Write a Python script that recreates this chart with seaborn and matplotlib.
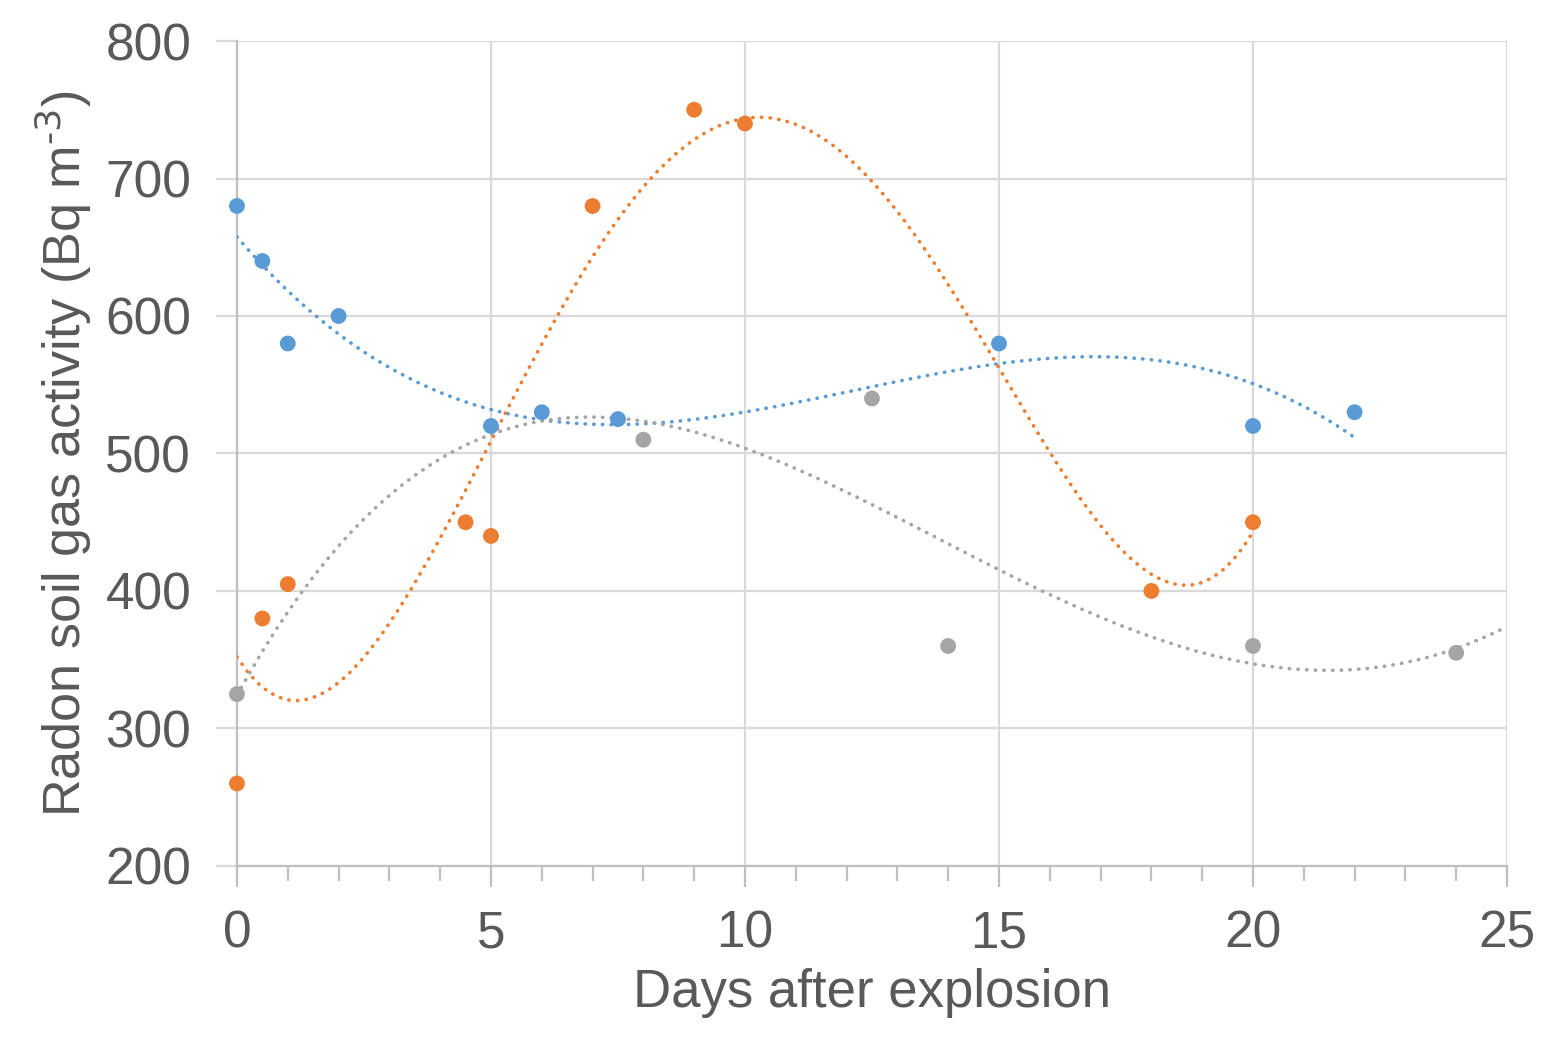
import matplotlib
matplotlib.use("Agg")
import matplotlib.pyplot as plt
import seaborn as sns
import pandas as pd
from matplotlib.ticker import MultipleLocator

# Datos
blue_days = [0, 0.5, 1, 2, 5, 6, 7.5, 15, 20, 22]
blue_radon = [680, 640, 580, 600, 520, 530, 525, 580, 520, 530]

orange_days = [0, 0.5, 1, 4.5, 5, 7, 9, 10, 18, 20]
orange_radon = [260, 380, 405, 450, 440, 680, 750, 740, 400, 450]

grey_days = [0, 8, 12.5, 14, 20, 24]
grey_radon = [325, 510, 540, 360, 360, 355]

x_ticks = [0, 5, 10, 15, 20, 25]
y_ticks = [200, 300, 400, 500, 600, 700, 800]

sns.set_style("white")
plt.rcParams['font.family'] = ['Liberation Sans', 'DejaVu Sans']
plt.rcParams['mathtext.default'] = 'regular'

text_color = '#595959'
grid_color = '#D9D9D9'
axis_color = '#BFBFBF'

# (x, y, color, orden del polinomio de tendencia, recortar al rango de datos)
series = [
    (blue_days, blue_radon, '#5B9BD5', 3, True),
    (orange_days, orange_radon, '#ED7D31', 4, True),
    (grey_days, grey_radon, '#A5A5A5', 4, False),
]

fig = plt.figure(figsize=(15.61, 10.49), dpi=100)
ax = fig.add_axes([0.1518, 0.1745, 0.8136, 0.7864])
ax.set_xlim(0, 25)
ax.set_ylim(200, 800)

for days, radon, color, order, trunc in series:
    df = pd.DataFrame({'days': days, 'radon': radon})
    sns.regplot(data=df, x='days', y='radon', order=order, ci=None, scatter=False,
                truncate=trunc, ax=ax,
                line_kws={'color': color, 'lw': 2.6, 'linestyle': (0, (0.1, 2.3)),
                          'dash_capstyle': 'round', 'zorder': 3})
    sns.scatterplot(data=df, x='days', y='radon', color=color, s=130,
                    edgecolor='none', ax=ax, zorder=4, clip_on=False)

ax.set_xlim(0, 25)
ax.set_ylim(200, 800)

# Rejilla y ejes estilo Excel
ax.set_xticks(x_ticks)
ax.set_yticks(y_ticks)
ax.xaxis.set_minor_locator(MultipleLocator(1))
ax.grid(True, which='major', color=grid_color, lw=1.6)
ax.set_axisbelow(True)
for side in ['top', 'right']:
    ax.spines[side].set_visible(False)
ax.spines['left'].set_color(axis_color)
ax.spines['left'].set_linewidth(1.6)
ax.spines['bottom'].set_color(axis_color)
ax.spines['bottom'].set_linewidth(1.6)

ax.tick_params(axis='x', which='major', length=15, width=1.6, color=axis_color,
               labelsize=37, labelcolor=text_color, pad=16, bottom=True)
ax.tick_params(axis='x', which='minor', length=11, width=1.6, color=axis_color, bottom=True)
ax.tick_params(axis='y', which='major', length=15, width=1.6, color=grid_color,
               labelsize=37, labelcolor=text_color, pad=18, left=True)

ax.set_xlabel('Days after explosion', fontsize=38, color=text_color, labelpad=7)
ax.set_ylabel(r'Radon soil gas activity (Bq m$^{\text{-3}}$)', fontsize=37.5,
              color=text_color, labelpad=8)

plt.savefig('out.png', dpi=100)
plt.close()
